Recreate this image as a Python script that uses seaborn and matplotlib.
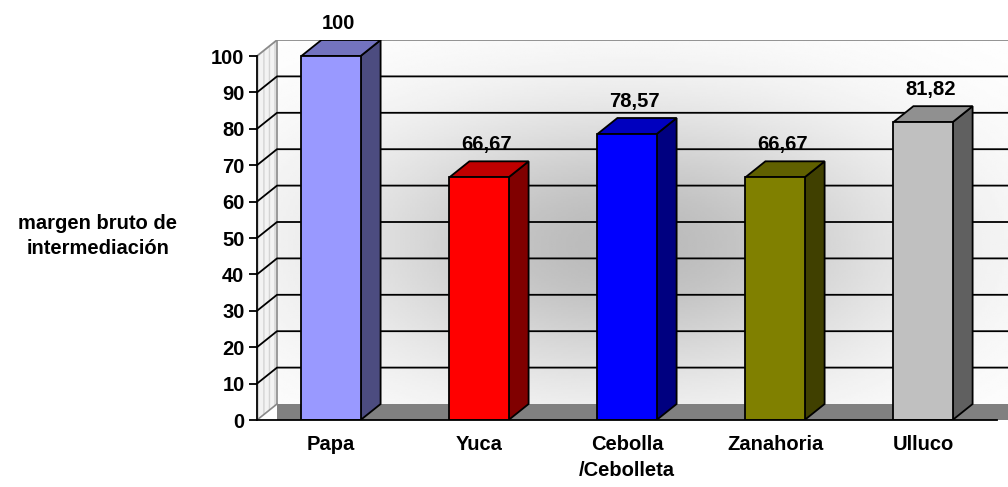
import numpy as np
import pandas as pd
import seaborn as sns
import matplotlib.pyplot as plt
from matplotlib.patches import Polygon, Rectangle

# datos del grafico
categorias = ["Papa", "Yuca", "Cebolla\n/Cebolleta", "Zanahoria", "Ulluco"]
valores = [100, 66.67, 78.57, 66.67, 81.82]
etiquetas = ["100", "66,67", "78,57", "66,67", "81,82"]
color_frente = ["#9999FF", "#FF0000", "#0000FF", "#808000", "#C0C0C0"]
color_lado = ["#4C4C80", "#800000", "#000080", "#404000", "#606060"]
color_techo = ["#7373BF", "#BF0000", "#0000BF", "#606000", "#909090"]
yticks = list(range(0, 101, 10))

sns.set_style("white")
plt.rcParams['font.family'] = ['Liberation Sans', 'DejaVu Sans']
plt.rcParams['text.color'] = 'black'
plt.rcParams['xtick.color'] = 'black'
plt.rcParams['ytick.color'] = 'black'
plt.rcParams['hatch.linewidth'] = 1.0

fig = plt.figure(figsize=(10.08, 4.87), dpi=100)
ax = fig.add_axes([257 / 1008, 67 / 487, 751 / 1008, 380 / 487])
px_x = 148.0          # pixeles por categoria
px_y = 3.64           # pixeles por unidad
xmin, xmax = -0.5, -0.5 + 751 / px_x
ymax = 380 / px_y
dx, dy = 20 / px_x, 16 / px_y   # profundidad 3D

# pared de fondo con degradado
gx = np.linspace(xmin + dx, xmax, 300)
gy = np.linspace(dy, 100 + dy, 200)
GX, GY = np.meshgrid(gx, gy)
g = 1 - 0.27 * np.exp(-((GX - 2.0) / 1.9) ** 2 - ((GY - 48) / 38) ** 2)
ax.imshow(g, extent=[xmin + dx, xmax, dy, 100 + dy], origin='lower',
          cmap='gray', vmin=0, vmax=1, aspect='auto', zorder=0)

# pared lateral izquierda (textura rayada)
ax.add_patch(Polygon([(xmin, 0), (xmin + dx, dy), (xmin + dx, 100 + dy), (xmin, 100)],
                     closed=True, facecolor='#f3f3f3', edgecolor='#d4d4d4', lw=0,
                     hatch='|||', zorder=0.5))
ax.plot([xmin + dx, xmin + dx], [dy, 100 + dy], color='#8a8a8a', lw=1.2, zorder=1)

# suelo
ax.add_patch(Polygon([(xmin + dx, 0), (xmin + dx, dy), (xmax, dy), (xmax, 0)],
                     closed=True, facecolor='#808080', edgecolor='none', zorder=1))
ax.plot([xmin, xmin + dx], [0, dy], color='#8a8a8a', lw=1.2, zorder=1)

# lineas de cuadricula
for t in yticks[1:]:
    c = '#8a8a8a' if t == 100 else 'black'
    ax.plot([xmin, xmin + dx, xmax], [t, t + dy, t + dy], color=c, lw=1.3, zorder=1.5)

# barras (cara frontal)
df = pd.DataFrame({"cat": categorias, "val": valores})
sns.barplot(data=df, x="cat", y="val", hue="cat", palette=color_frente, legend=False,
            width=0.4, edgecolor='black', linewidth=1.3, saturation=1, ax=ax, zorder=3)

barras = sorted([p for p in ax.patches if isinstance(p, Rectangle) and p.get_height() > 0],
                key=lambda r: r.get_x())
for i, p in enumerate(barras):
    x0, w, h = p.get_x(), p.get_width(), p.get_height()
    x1 = x0 + w
    ax.add_patch(Polygon([(x1, 0), (x1 + dx, dy), (x1 + dx, h + dy), (x1, h)], closed=True,
                         facecolor=color_lado[i], edgecolor='black', lw=1.3, zorder=2.9))
    ax.add_patch(Polygon([(x0, h), (x0 + dx, h + dy), (x1 + dx, h + dy), (x1, h)], closed=True,
                         facecolor=color_techo[i], edgecolor='black', lw=1.3, zorder=2.9))
    ax.text(x0 + w / 2 + 0.05, h + dy + 4.6, etiquetas[i], ha='center', va='center',
            fontsize=14.5, fontweight='bold', clip_on=False, zorder=5)

# ejes frontales
ax.set_xlim(xmin, xmax)
ax.set_ylim(0, ymax)
for s in ['top', 'right']:
    ax.spines[s].set_visible(False)
ax.spines['left'].set_bounds(0, 100)
ax.spines['bottom'].set_bounds(-0.5, 4.5)
for s in ['left', 'bottom']:
    ax.spines[s].set_linewidth(1.3)
    ax.spines[s].set_color('black')
    ax.spines[s].set_zorder(4)

ax.set_yticks(yticks)
ax.set_yticklabels([str(t) for t in yticks], fontsize=14.5, fontweight='bold')
ax.set_xticks(range(len(categorias)))
ax.set_xticklabels(categorias, fontsize=14.5, fontweight='bold')
for lab in ax.get_xticklabels():
    lab.set_linespacing(1.45)
ax.set_xticks(np.arange(-0.5, 5, 1), minor=True)
ax.tick_params(axis='x', which='major', length=0, pad=11)
ax.tick_params(axis='x', which='minor', length=7, width=1.3, direction='out', color='black')
ax.tick_params(axis='y', length=6, width=1.3, direction='out', color='black', pad=3, left=True)
ax.set_xlabel("")
ax.set_ylabel("")

fig.text(98 / 1008, 1 - 236 / 487, "margen bruto de\nintermediación", ha='center', va='center',
         fontsize=14.5, fontweight='bold', linespacing=1.4)

fig.savefig("out.png", dpi=100)
